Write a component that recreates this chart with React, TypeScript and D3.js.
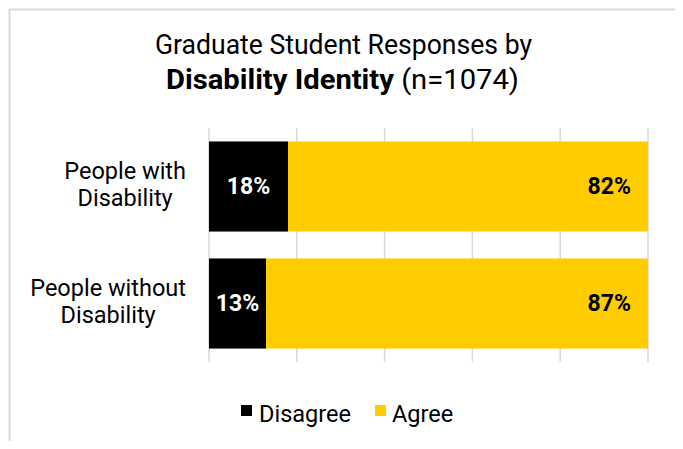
import React from "react";
import * as d3 from "d3";

const categories = ["People with\nDisability", "People without\nDisability"];
const disagree = [18, 13];
const agree = [82, 87];
const seriesNames = ["Disagree", "Agree"];
const seriesColors = ["#000000", "#FFCC00"];
const xTicks = [0, 20, 40, 60, 80, 100];

const W = 683;
const H = 449;
const FONT = "Roboto, 'Noto Sans', sans-serif";

function measure(text: string, font: string): number {
  const c = document.createElement("canvas").getContext("2d");
  if (!c) return text.length * 10;
  c.font = font;
  return c.measureText(text).width;
}

export default function App() {
  const x = d3.scaleLinear().domain([0, 100]).range([209, 648]);
  const y = d3.scaleBand().domain(categories).range([128, 362]).paddingInner(0.23).paddingOuter(0.115);
  const stacked = categories.map((c, i) => ({
    cat: c,
    segs: [
      { name: seriesNames[0], x0: 0, x1: disagree[i], v: disagree[i], color: seriesColors[0] },
      { name: seriesNames[1], x0: disagree[i], x1: disagree[i] + agree[i], v: agree[i], color: seriesColors[1] },
    ],
  }));
  const labelSize = 23.5;
  const labelFont = `${labelSize}px Roboto`;
  return (
    <div style={{ margin: "-8px" }}>
      <svg width={W} height={H} style={{ display: "block", fontFamily: FONT }}>
        <rect x={0} y={0} width={W} height={H} fill="#fff" />
        <rect x={9.5} y={9.5} width={667} height={460} fill="#fff" stroke="#d9d9d9" strokeWidth={2} />
        <text x={343.5} y={53.5} textAnchor="middle" fontSize={27} fill="#000" textLength={377} lengthAdjust="spacingAndGlyphs">
          Graduate Student Responses by
        </text>
        <text x={342.5} y={89} textAnchor="middle" fontSize={27} fill="#000" textLength={353} lengthAdjust="spacingAndGlyphs">
          <tspan fontWeight="bold">Disability Identity</tspan>
          <tspan> (n=1074)</tspan>
        </text>
        {xTicks.map((t) => (
          <line key={t} x1={x(t)} x2={x(t)} y1={128} y2={362} stroke="#d9d9d9" strokeWidth={1.5} />
        ))}
        {stacked.map((row) => {
          const by = y(row.cat)!;
          const bh = y.bandwidth();
          const lines = row.cat.split("\n");
          const maxW = Math.max(...lines.map((l) => measure(l, labelFont)));
          const cx = 186 - maxW / 2;
          const lh = 27.5;
          const cy = by + bh / 2;
          return (
            <g key={row.cat}>
              {row.segs.map((s) => (
                <rect key={s.name} x={x(s.x0)} y={by} width={x(s.x1) - x(s.x0)} height={bh} fill={s.color} />
              ))}
              <text x={(x(row.segs[0].x0) + x(row.segs[0].x1)) / 2} y={cy + 7.5} textAnchor="middle" fontSize={23} fontWeight="bold" fill="#fff">
                {row.segs[0].v}%
              </text>
              <text x={x(row.segs[1].x1) - 17} y={cy + 7.5} textAnchor="end" fontSize={23} fontWeight="bold" fill="#000">
                {row.segs[1].v}%
              </text>
              {lines.map((l, i) => (
                <text key={i} x={cx} y={cy - 8 + i * lh} textAnchor="middle" fontSize={labelSize} fill="#000">
                  {l}
                </text>
              ))}
            </g>
          );
        })}
        <g>
          <rect x={241} y={405} width={11} height={11} fill={seriesColors[0]} />
          <text x={259} y={421.5} fontSize={23.5} fill="#000">{seriesNames[0]}</text>
          <rect x={375} y={405} width={11} height={11} fill={seriesColors[1]} />
          <text x={392} y={421.5} fontSize={23.5} fill="#000">{seriesNames[1]}</text>
        </g>
      </svg>
    </div>
  );
}
